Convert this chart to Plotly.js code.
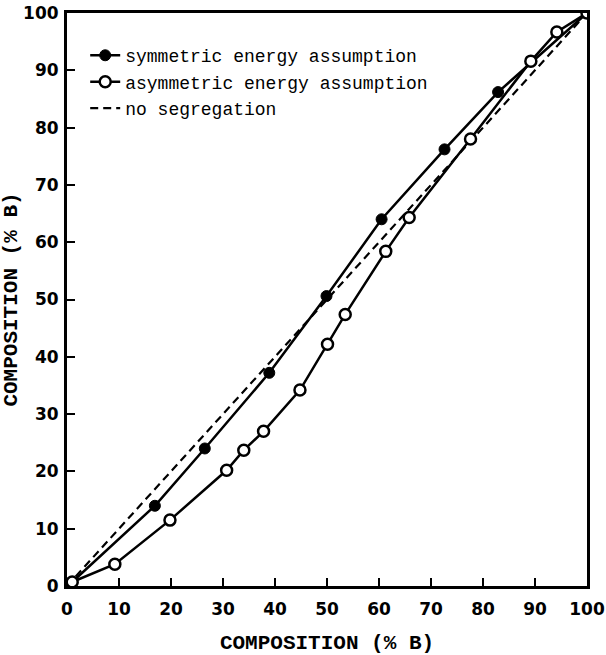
<!DOCTYPE html>
<html>
<head>
<meta charset="utf-8">
<script src="https://cdn.plot.ly/plotly-3.0.1.min.js"></script>
<style>html,body{margin:0;padding:0;background:#fff}#chart{width:606px;height:655px}</style>
</head>
<body>
<div id="chart"></div>
<script>
var symX = [1, 16.9, 26.5, 38.9, 49.9, 60.5, 72.6, 82.9, 100];
var symY = [0.7, 14.0, 24.0, 37.2, 50.6, 64.0, 76.2, 86.2, 100];
var asymX = [1, 9.2, 19.8, 30.7, 34.0, 37.8, 44.8, 50.1, 53.5, 61.3, 65.8, 77.6, 89.2, 94.2, 100];
var asymY = [0.7, 3.8, 11.5, 20.2, 23.7, 27.0, 34.2, 42.2, 47.4, 58.4, 64.3, 78.0, 91.6, 96.7, 100];
var noSegX = [0, 100];
var noSegY = [0, 100];
var tickVals = [0, 10, 20, 30, 40, 50, 60, 70, 80, 90, 100];
var seriesNames = ['symmetric energy assumption', 'asymmetric energy assumption', 'no segregation'];
var axisTitle = 'COMPOSITION (% B)';

var traces = [
  {x: noSegX, y: noSegY, mode: 'lines', name: seriesNames[2], legendrank: 3,
   line: {color: '#000', width: 2.2, dash: '8px,5px'}},
  {x: symX, y: symY, mode: 'lines+markers', name: seriesNames[0], legendrank: 1,
   line: {color: '#000', width: 2.5},
   marker: {symbol: 'circle', size: 11, color: '#000', line: {color: '#000', width: 1}}},
  {x: asymX, y: asymY, mode: 'lines+markers', name: seriesNames[1], legendrank: 2,
   line: {color: '#000', width: 2.5},
   marker: {symbol: 'circle', size: 11, color: '#fff', line: {color: '#000', width: 2.5}}}
];

var axisCommon = {
  range: [0, 100], tickvals: tickVals, ticks: 'inside', ticklen: 8, tickwidth: 2, tickcolor: '#000',
  showline: true, linewidth: 3, linecolor: '#000', mirror: true, showgrid: false, zeroline: false,
  tickfont: {family: 'DejaVu Sans', size: 17, color: '#000', weight: 'bold'}
};

var layout = {
  width: 606, height: 655,
  margin: {l: 67, r: 19, t: 13, b: 69},
  paper_bgcolor: '#fff', plot_bgcolor: '#fff',
  showlegend: true,
  legend: {x: 0.035, y: 0.958, xanchor: 'left', yanchor: 'top', bgcolor: 'rgba(0,0,0,0)',
    traceorder: 'normal', itemwidth: 30,
    font: {family: 'Liberation Mono', size: 18, color: '#000'}},
  xaxis: Object.assign({}, axisCommon, {
    ticklabelstandoff: 6,
    title: {text: axisTitle, standoff: 16, font: {family: 'Liberation Mono', size: 21, color: '#000', weight: 'bold'}}
  }),
  yaxis: Object.assign({}, axisCommon, {
    ticklabelstandoff: 2,
    title: {text: axisTitle, standoff: 8, font: {family: 'Liberation Mono', size: 21, color: '#000', weight: 'bold'}}
  })
};

Plotly.newPlot('chart', traces, layout, {displayModeBar: false, staticPlot: true});
</script>
</body>
</html>
